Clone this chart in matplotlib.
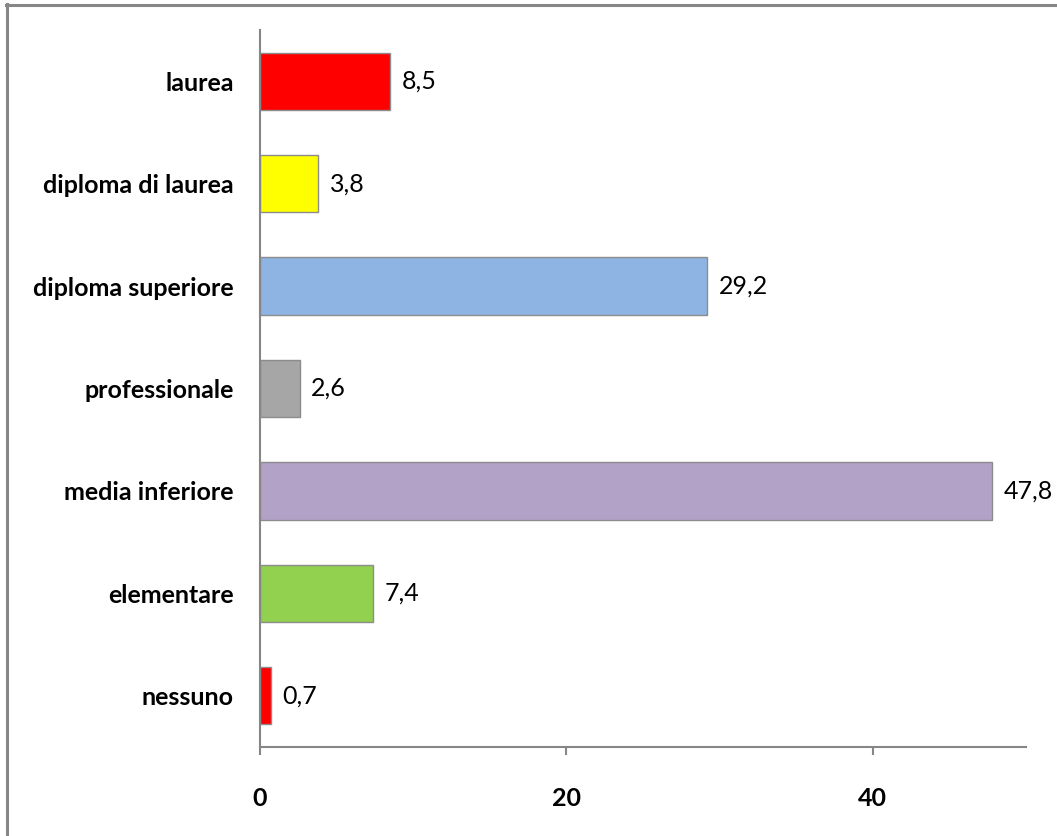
import matplotlib
matplotlib.use("Agg")
import matplotlib.pyplot as plt

categories = ["laurea", "diploma di laurea", "diploma superiore", "professionale",
              "media inferiore", "elementare", "nessuno"]
values = [8.5, 3.8, 29.2, 2.6, 47.8, 7.4, 0.7]
colors = ["#FF0000", "#FFFF00", "#8EB4E3", "#A6A6A6", "#B3A2C7", "#92D050", "#FF0000"]
xticks = [0, 20, 40]

plt.rcParams['font.family'] = ['Lato', 'DejaVu Sans']

fig = plt.figure(figsize=(10.57, 8.36), dpi=100)
ax = fig.add_axes([0.246, 0.1065, 0.7247, 0.8576])

pos = list(range(len(categories)))[::-1]
ax.barh(pos, values, height=0.56, color=colors, edgecolor="#8C8C8C", linewidth=1)

for p, v in zip(pos, values):
    ax.text(v + 0.75, p, f"{v:.1f}".replace(".", ","), va="center", ha="left",
            fontsize=18, color="black")

ax.set_xlim(0, 50)
ax.set_ylim(-0.5, 6.5)
ax.set_yticks(pos)
ax.set_yticklabels(categories, fontsize=18, fontweight="bold")
ax.set_xticks(xticks)
ax.set_xticklabels([str(t) for t in xticks], fontsize=18, fontweight="bold")

for s in ["top", "right"]:
    ax.spines[s].set_visible(False)
for s in ["left", "bottom"]:
    ax.spines[s].set_color("#868686")
    ax.spines[s].set_linewidth(1.5)

ax.tick_params(axis="y", length=0, pad=19)
ax.tick_params(axis="x", direction="out", length=6, width=1.5, color="#868686", pad=23)

# figure border (top and left visible)
fig.add_artist(plt.Line2D([0.006, 1.0], [0.9940, 0.9940], transform=fig.transFigure,
                          color="#878787", linewidth=2.2))
fig.add_artist(plt.Line2D([0.0066, 0.0066], [0.0, 0.9952], transform=fig.transFigure,
                          color="#878787", linewidth=2.2))

fig.savefig("out.png", dpi=100)
